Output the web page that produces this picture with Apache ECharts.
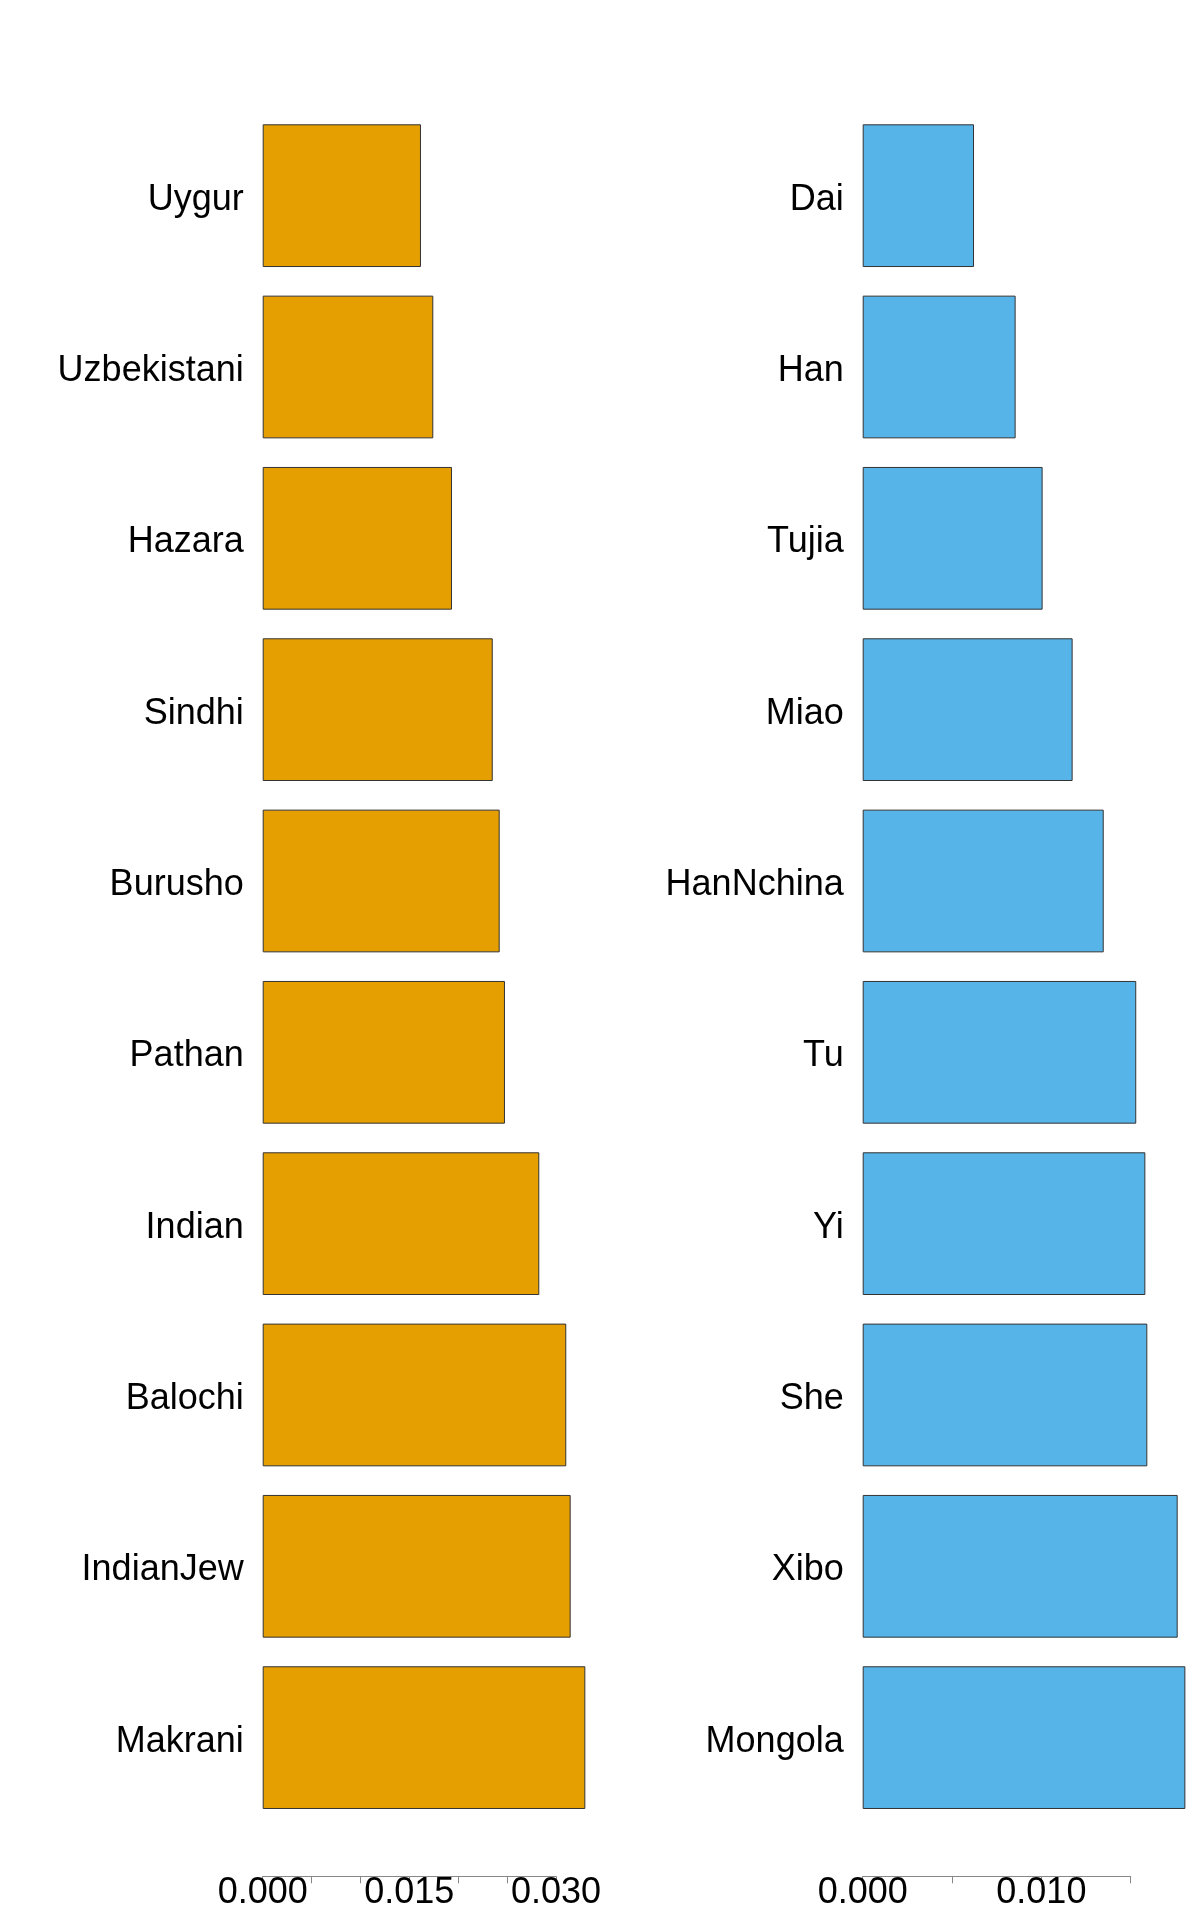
<!DOCTYPE html>
<html>
<head>
<meta charset="utf-8">
<style>
  html, body { margin: 0; padding: 0; background: #fff; }
  #chart { width: 1200px; height: 1920px; }
</style>
<script src="https://cdn.jsdelivr.net/npm/echarts@6/dist/echarts.min.js"></script>
</head>
<body>
<div id="chart"></div>
<script>
// left panel
const leftNames = ['Uygur', 'Uzbekistani', 'Hazara', 'Sindhi', 'Burusho', 'Pathan', 'Indian', 'Balochi', 'IndianJew', 'Makrani']
const leftValues = [0.01619, 0.01745, 0.01936, 0.02353, 0.02424, 0.02478, 0.02829, 0.03105, 0.03150, 0.03300]
const leftTicks = [0, 0.015, 0.03]

// right panel
const rightNames = ['Dai', 'Han', 'Tujia', 'Miao', 'HanNchina', 'Tu', 'Yi', 'She', 'Xibo', 'Mongola']
const rightValues = [0.00623, 0.00856, 0.01007, 0.01175, 0.01349, 0.01531, 0.01582, 0.01593, 0.01763, 0.01806]
const rightTicks = [0, 0.01]

const font = '"Liberation Sans", Arial, Helvetica, sans-serif'

function xAxisFor(gridIndex, max, labels) {
    return {
        type: 'value',
        gridIndex: gridIndex,
        min: 0,
        max: max,
        interval: 0.005,
        position: 'bottom',
        offset: 53,
        splitLine: { show: false },
        axisLine: { show: true, lineStyle: { color: '#888', width: 1 } },
        axisTick: { show: true, length: 7, lineStyle: { color: '#888' } },
        axisLabel: {
            customValues: labels,
            margin: -1,
            color: '#000',
            fontSize: 36,
            fontFamily: font,
            formatter: v => v.toFixed(3)
        }
    }
}

function yAxisFor(gridIndex, names) {
    return {
        type: 'category',
        gridIndex: gridIndex,
        data: names,
        inverse: true,
        axisLine: { show: false },
        axisTick: { show: false },
        axisLabel: {
            margin: 19,
            verticalAlign: 'top',
            lineHeight: 8,
            color: '#000',
            fontSize: 36,
            fontFamily: font
        }
    }
}

function barsFor(index, values, color) {
    return {
        type: 'bar',
        xAxisIndex: index,
        yAxisIndex: index,
        data: values,
        clip: false,
        barCategoryGap: '16.7%',
        itemStyle: { color: color, borderColor: '#333', borderWidth: 1 },
        animation: false
    }
}

const chart = echarts.init(document.getElementById('chart'), null, { renderer: 'canvas' })
chart.setOption({
    backgroundColor: '#fff',
    animation: false,
    grid: [
        { left: 262.7, width: 293.3, top: 110, height: 1713.3 },
        { left: 862.7, width: 268, top: 110, height: 1713.3 }
    ],
    xAxis: [
        xAxisFor(0, 0.03, leftTicks),
        xAxisFor(1, 0.015, rightTicks)
    ],
    yAxis: [
        yAxisFor(0, leftNames),
        yAxisFor(1, rightNames)
    ],
    series: [
        barsFor(0, leftValues, '#E69F00'),
        barsFor(1, rightValues, '#56B4E9')
    ]
})
</script>
</body>
</html>
